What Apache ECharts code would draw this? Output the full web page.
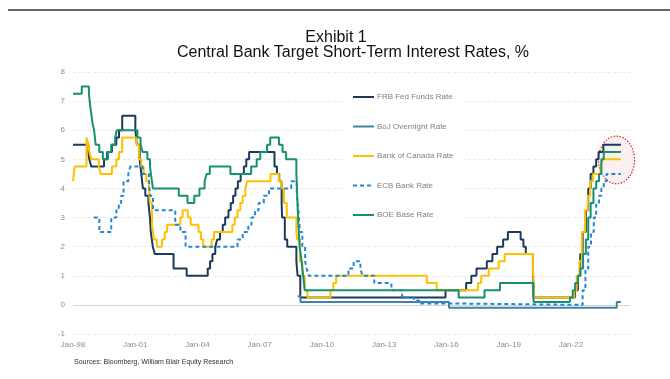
<!DOCTYPE html>
<html>
<head>
<meta charset="utf-8">
<script src="https://cdn.jsdelivr.net/npm/echarts@6/dist/echarts.min.js"></script>
<style>
  html, body { margin: 0; padding: 0; background: #fff; }
  #chart { width: 670px; height: 379px; }
</style>
</head>
<body>
<div id="chart"></div>
<script>
// Policy-rate change dates and the rate set on each date (held until the next change).
const fedDates = ['1998-01-01','1998-09-29','1998-10-15','1998-11-17','1999-06-30','1999-08-24','1999-11-16','2000-02-02','2000-03-21','2000-05-16',
  '2001-01-03','2001-01-31','2001-03-20','2001-04-18','2001-05-15','2001-06-27','2001-08-21','2001-09-17','2001-10-02','2001-11-06','2001-12-11',
  '2002-11-06','2003-06-25','2004-06-30','2004-08-10','2004-09-21','2004-11-10','2004-12-14','2005-02-02','2005-03-22','2005-05-03','2005-06-30',
  '2005-08-09','2005-09-20','2005-11-01','2005-12-13','2006-01-31','2006-03-28','2006-05-10','2006-06-29','2007-09-18','2007-10-31','2007-12-11',
  '2008-01-22','2008-01-30','2008-03-18','2008-04-30','2008-10-08','2008-10-29','2008-12-16','2015-12-16','2016-12-14','2017-03-15','2017-06-14',
  '2017-12-13','2018-03-21','2018-06-13','2018-09-26','2018-12-19','2019-07-31','2019-09-18','2019-10-30','2020-03-03','2020-03-15','2022-03-16',
  '2022-05-04','2022-06-15','2022-07-27','2022-09-21','2022-11-02','2022-12-14','2023-02-01','2023-03-22','2023-05-03','2023-07-26','2024-05-31'];
const fedRates = [5.5,5.25,5.0,4.75,5.0,5.25,5.5,5.75,6.0,6.5,
  6.0,5.5,5.0,4.5,4.0,3.75,3.5,3.0,2.5,2.0,1.75,
  1.25,1.0,1.25,1.5,1.75,2.0,2.25,2.5,2.75,3.0,3.25,
  3.5,3.75,4.0,4.25,4.5,4.75,5.0,5.25,4.75,4.5,4.25,
  3.5,3.0,2.25,2.0,1.5,1.0,0.25,0.5,0.75,1.0,1.25,
  1.5,1.75,2.0,2.25,2.5,2.25,2.0,1.75,1.25,0.25,0.5,
  1.0,1.75,2.5,3.25,4.0,4.5,4.75,5.0,5.25,5.5,5.5];

const bojDates = ['2008-10-31','2008-12-19','2016-02-16','2024-03-19','2024-05-31'];
const bojRates = [0.3,0.1,-0.1,0.1,0.1];

const bocDates = ['1998-01-01','1998-01-30','1998-08-27','1998-09-29','1998-10-16','1998-11-18','1999-03-31','1999-05-04','1999-11-17','2000-02-03',
  '2000-03-22','2000-05-17','2001-01-23','2001-03-06','2001-04-17','2001-05-29','2001-07-17','2001-08-28','2001-09-17','2001-10-23','2001-11-27',
  '2002-01-15','2002-04-16','2002-06-04','2002-07-16','2003-03-04','2003-04-15','2003-07-15','2003-09-03','2004-01-20','2004-03-02','2004-04-13',
  '2004-09-08','2004-10-19','2005-09-07','2005-10-18','2005-12-06','2006-01-24','2006-03-07','2006-04-25','2006-05-24','2007-07-10','2007-12-04',
  '2008-01-22','2008-03-04','2008-04-22','2008-10-08','2008-10-21','2008-12-09','2009-01-20','2009-03-03','2009-04-21','2010-06-01','2010-07-20',
  '2010-09-08','2015-01-21','2015-07-15','2017-07-12','2017-09-06','2018-01-17','2018-07-11','2018-10-24','2020-03-04','2020-03-16','2020-03-27',
  '2022-03-02','2022-04-13','2022-06-01','2022-07-13','2022-09-07','2022-10-26','2022-12-07','2023-01-25','2023-06-07','2023-07-12','2024-05-31'];
const bocRates = [4.25,4.75,5.75,5.5,5.25,5.0,4.75,4.5,4.75,5.0,
  5.25,5.75,5.5,5.0,4.75,4.5,4.25,4.0,3.5,2.75,2.25,
  2.0,2.25,2.5,2.75,3.0,3.25,3.0,2.75,2.5,2.25,2.0,
  2.25,2.5,2.75,3.0,3.25,3.5,3.75,4.0,4.25,4.5,4.25,
  4.0,3.5,3.0,2.5,2.25,1.5,1.0,0.5,0.25,0.5,0.75,
  1.0,0.75,0.5,0.75,1.0,1.25,1.5,1.75,1.25,0.75,0.25,
  0.5,1.0,1.5,2.5,3.25,3.75,4.25,4.5,4.75,5.0,5.0];

const ecbDates = ['1999-01-01','1999-04-09','1999-11-05','2000-02-04','2000-03-17','2000-04-28','2000-06-09','2000-09-01','2000-10-06','2001-05-11',
  '2001-08-31','2001-09-18','2001-11-09','2002-12-06','2003-03-07','2003-06-06','2005-12-06','2006-03-08','2006-06-15','2006-08-09','2006-10-11',
  '2006-12-13','2007-03-14','2007-06-13','2008-07-09','2008-10-15','2008-11-12','2008-12-10','2009-01-21','2009-03-11','2009-04-08','2009-05-13',
  '2011-04-13','2011-07-13','2011-11-09','2011-12-14','2012-07-11','2013-05-08','2013-11-13','2014-06-11','2014-09-10','2016-03-16','2022-07-27',
  '2022-09-14','2022-11-02','2022-12-21','2023-02-08','2023-03-22','2023-05-10','2023-06-21','2023-08-02','2023-09-20','2024-05-31'];
const ecbRates = [3.0,2.5,3.0,3.25,3.5,3.75,4.25,4.5,4.75,4.5,
  4.25,3.75,3.25,2.75,2.5,2.0,2.25,2.5,2.75,3.0,3.25,
  3.5,3.75,4.0,4.25,3.75,3.25,2.5,2.0,1.5,1.25,1.0,
  1.25,1.5,1.25,1.0,0.75,0.5,0.25,0.15,0.05,0.0,0.5,
  1.25,2.0,2.5,3.0,3.5,3.75,4.0,4.25,4.5,4.5];

const boeDates = ['1998-01-01','1998-06-04','1998-10-08','1998-11-05','1998-12-10','1999-01-07','1999-02-04','1999-04-08','1999-06-10','1999-09-08',
  '1999-11-04','2000-01-13','2000-02-10','2001-02-08','2001-04-05','2001-05-10','2001-08-02','2001-09-18','2001-10-04','2001-11-08','2003-02-06',
  '2003-07-10','2003-11-06','2004-02-05','2004-05-06','2004-06-10','2004-08-05','2005-08-04','2006-08-03','2006-11-09','2007-01-11','2007-05-10',
  '2007-07-05','2007-12-06','2008-02-07','2008-04-10','2008-10-08','2008-11-06','2008-12-04','2009-01-08','2009-02-05','2009-03-05','2016-08-04',
  '2017-11-02','2018-08-02','2020-03-11','2020-03-19','2021-12-16','2022-02-03','2022-03-17','2022-05-05','2022-06-16','2022-08-04','2022-09-22',
  '2022-11-03','2022-12-15','2023-02-02','2023-03-23','2023-05-11','2023-06-22','2023-08-03','2024-05-31'];
const boeRates = [7.25,7.5,7.25,6.75,6.25,6.0,5.5,5.25,5.0,5.25,
  5.5,5.75,6.0,5.75,5.5,5.25,5.0,4.75,4.5,4.0,3.75,
  3.5,3.75,4.0,4.25,4.5,4.75,4.5,4.75,5.0,5.25,5.5,
  5.75,5.5,5.25,5.0,4.5,3.0,2.0,1.5,1.0,0.5,0.25,
  0.5,0.75,0.25,0.1,0.25,0.5,0.75,1.0,1.25,1.75,2.25,
  3.0,3.5,4.0,4.25,4.5,5.0,5.25,5.25];

const seriesNames = ['FRB Fed Funds Rate','BoJ Overnight Rate','Bank of Canada Rate','ECB Bank Rate','BOE Base Rate'];
const yTicks = { min: -1, max: 8, step: 1 };
const xYears = { min: 1998, max: 2024.85, step: 3 };

// Dates are placed on a decimal-year axis.
function toYear(s) {
  const t = Date.parse(s + 'T00:00:00Z');
  const y = new Date(t).getUTCFullYear();
  const a = Date.UTC(y, 0, 1), b = Date.UTC(y + 1, 0, 1);
  return y + (t - a) / (b - a);
}
function pairs(dates, rates) { return dates.map((d, i) => [toYear(d), rates[i]]); }

const styles = [
  { color: '#1b3a5c', type: 'solid' },
  { color: '#4382a6', type: 'solid' },
  { color: '#ffc000', type: 'solid' },
  { color: '#2187d6', type: [4, 3] },
  { color: '#17906f', type: 'solid' }
];
const datasets = [pairs(fedDates, fedRates), pairs(bojDates, bojRates), pairs(bocDates, bocRates),
                  pairs(ecbDates, ecbRates), pairs(boeDates, boeRates)];

const FONT = '"Liberation Sans", Arial, sans-serif';

const series = seriesNames.map((name, i) => ({
  name: name,
  type: 'line',
  step: 'end',
  data: datasets[i],
  symbol: 'none',
  showSymbol: false,
  itemStyle: { color: styles[i].color },
  lineStyle: { color: styles[i].color, width: 2, type: styles[i].type }
}));
// solid zero reference line
series[0].markLine = {
  silent: true, symbol: 'none', label: { show: false },
  lineStyle: { color: '#d4d4d4', width: 1, type: 'solid' },
  data: [{ yAxis: 0 }], z: 1
};

const baseGraphics = [
  { id: 'rule', type: 'line', shape: { x1: 8, y1: 10, x2: 670, y2: 10 }, style: { stroke: '#333', lineWidth: 1.5 } },
  { id: 'title', type: 'text', x: 336, y: 38, style: { text: 'Exhibit 1', font: '16px ' + FONT, fill: '#111', textAlign: 'center', textVerticalAlign: 'middle' } },
  { id: 'subtitle', type: 'text', x: 353, y: 53, style: { text: 'Central Bank Target Short-Term Interest Rates, %', font: '16px ' + FONT, fill: '#111', textAlign: 'center', textVerticalAlign: 'middle' } },
  { id: 'source', type: 'text', x: 74, y: 362, style: { text: 'Sources: Bloomberg, William Blair Equity Research', font: '7px ' + FONT, fill: '#333', textAlign: 'left', textVerticalAlign: 'middle' } }
];

const chart = echarts.init(document.getElementById('chart'), null, { renderer: 'canvas' });
chart.setOption({
  animation: false,
  backgroundColor: '#fff',
  grid: { left: 73, right: 40, top: 72, bottom: 45 },
  xAxis: {
    type: 'value', min: xYears.min, max: xYears.max, interval: xYears.step,
    axisLine: { show: false }, axisTick: { show: false }, splitLine: { show: false },
    axisLabel: {
      color: '#8c8c8c', fontSize: 8, fontFamily: FONT, margin: 7, showMaxLabel: false,
      formatter: v => (Number.isInteger(v) ? 'Jan-' + String(v).slice(2) : '')
    }
  },
  yAxis: {
    type: 'value', min: yTicks.min, max: yTicks.max, interval: yTicks.step,
    axisLine: { show: false }, axisTick: { show: false },
    axisLabel: { color: '#8c8c8c', fontSize: 8, fontFamily: FONT, margin: 8 },
    splitLine: { lineStyle: { color: '#ebebeb', type: [3, 2], width: 1 } }
  },
  legend: {
    orient: 'vertical', left: 344, top: 87,
    itemWidth: 21, itemHeight: 8, itemGap: 21.5,
    padding: [6, 8], backgroundColor: '#fff',
    itemStyle: { opacity: 0 },
    textStyle: { color: '#7f7f7f', fontSize: 8, fontFamily: FONT, padding: [0, 0, 0, -2] },
    data: seriesNames
  },
  graphic: baseGraphics,
  series: series
});

// Dotted highlight ring around the latest policy levels, placed in data space.
const c = chart.convertToPixel({ gridIndex: 0 }, [2024.2, 4.98]);
const e = chart.convertToPixel({ gridIndex: 0 }, [2025.07, 5.8]);
chart.setOption({
  graphic: baseGraphics.concat([{
    id: 'ring', type: 'ellipse', z: 0,
    shape: { cx: c[0], cy: c[1], rx: Math.abs(e[0] - c[0]), ry: Math.abs(c[1] - e[1]) },
    style: { fill: 'rgba(235,170,170,0.18)', stroke: '#d9262c', lineWidth: 1.2, lineDash: [1.5, 1.5] }
  }])
});
</script>
</body>
</html>
